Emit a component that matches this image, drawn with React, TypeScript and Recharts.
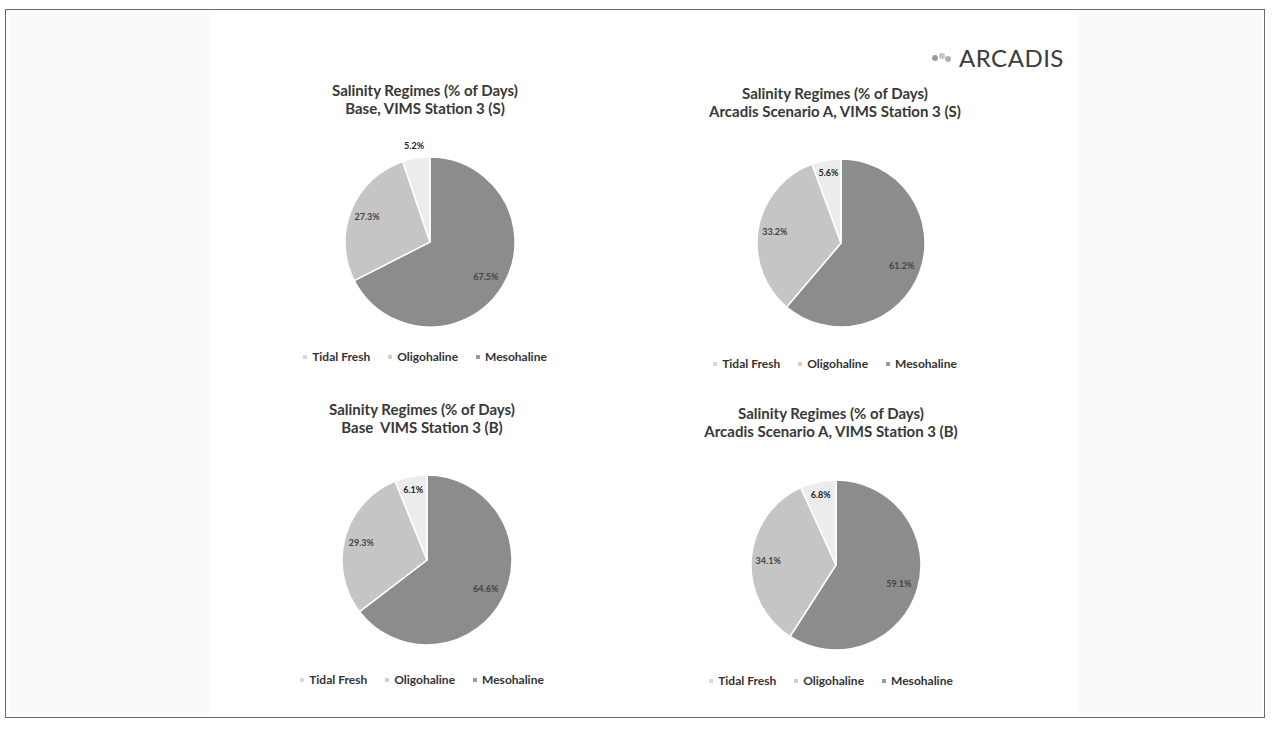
import React from 'react';
import { PieChart, Pie, Cell, Legend } from 'recharts';

// Category names (legend order)
const categories = ['Tidal Fresh', 'Oligohaline', 'Mesohaline'];

// Percent of days, in legend order: Tidal Fresh, Oligohaline, Mesohaline
const baseSurface = [5.2, 27.3, 67.5];
const scenarioASurface = [5.6, 33.2, 61.2];
const baseBottom = [6.1, 29.3, 64.6];
const scenarioABottom = [6.8, 34.1, 59.1];

const titleLine1 = 'Salinity Regimes (% of Days)';
const subtitles = [
  'Base, VIMS Station 3 (S)',
  'Arcadis Scenario A, VIMS Station 3 (S)',
  'Base\u00a0 VIMS Station 3 (B)',
  'Arcadis Scenario A, VIMS Station 3 (B)',
];

const COLORS: Record<string, string> = {
  'Tidal Fresh': '#ececec',
  Oligohaline: '#c5c5c5',
  Mesohaline: '#8c8c8c',
};

const MARKER: Record<string, string> = {
  'Tidal Fresh': '#d8d8d8',
  Oligohaline: '#d0d0d0',
  Mesohaline: '#9a9a9a',
};

const FONT = 'Lato, "Open Sans", sans-serif';
const RAD = Math.PI / 180;

const panels = [
  { values: baseSurface, sub: subtitles[0], left: 270, top: 80, cx: 155, cy: 157, r: 85, t1: 1, legendTop: 269, smallOut: true },
  { values: scenarioASurface, sub: subtitles[1], left: 680, top: 80, cx: 156, cy: 158, r: 84, t1: 4, legendTop: 276, smallOut: false },
  { values: baseBottom, sub: subtitles[2], left: 267, top: 395, cx: 155, cy: 160, r: 85, t1: 5, legendTop: 277, smallOut: false },
  { values: scenarioABottom, sub: subtitles[3], left: 676, top: 400, cx: 155, cy: 160, r: 85, t1: 4, legendTop: 273, smallOut: false },
];

const makeLabel = (smallOut: boolean) => (props: any) => {
  const { cx, cy, midAngle, outerRadius, value, name } = props;
  let f = 0.77;
  if (name === 'Oligohaline') f = 0.8;
  if (name === 'Tidal Fresh') f = smallOut ? 1.15 : 0.85;
  const r = outerRadius * f;
  const x = cx + r * Math.cos(-midAngle * RAD);
  const y = cy + r * Math.sin(-midAngle * RAD);
  return (
    <text
      x={x}
      y={y}
      textAnchor="middle"
      dominantBaseline="central"
      fontFamily={FONT}
      fontWeight={700}
      fontSize={9}
      fill={name === 'Tidal Fresh' ? '#222' : '#444'}
    >
      {value.toFixed(1)}%
    </text>
  );
};

const LegendContent = () => (
  <div style={{ display: 'flex', justifyContent: 'center', gap: 18, fontFamily: FONT, fontWeight: 700, fontSize: 12, color: '#333' }}>
    {categories.map((c) => (
      <div key={c} style={{ display: 'flex', alignItems: 'center' }}>
        <span style={{ display: 'inline-block', width: 4, height: 4, background: MARKER[c], marginRight: 5 }} />
        <span>{c}</span>
      </div>
    ))}
  </div>
);

function Panel({ p }: { p: (typeof panels)[number] }) {
  // drawing order clockwise from 12 o'clock: Mesohaline, Oligohaline, Tidal Fresh
  const data = [2, 1, 0].map((i) => ({ name: categories[i], value: p.values[i] }));
  return (
    <div style={{ position: 'absolute', left: p.left, top: p.top, width: 310, height: 300 }}>
      <div
        style={{
          position: 'absolute',
          left: -20,
          top: p.t1,
          width: 350,
          textAlign: 'center',
          fontFamily: FONT,
          fontWeight: 700,
          fontSize: 15,
          lineHeight: '18px',
          color: '#383838',
          whiteSpace: 'pre',
        }}
      >
        <div>{titleLine1}</div>
        <div>{p.sub}</div>
      </div>
      <PieChart width={310} height={300} style={{ position: 'absolute', left: 0, top: 0 }}>
        <Pie
          data={data}
          dataKey="value"
          nameKey="name"
          cx={p.cx}
          cy={p.cy}
          outerRadius={p.r}
          startAngle={90}
          endAngle={-270}
          stroke="#ffffff"
          strokeWidth={1.5}
          label={makeLabel(p.smallOut)}
          labelLine={false}
          isAnimationActive={false}
        >
          {data.map((d) => (
            <Cell key={d.name} fill={COLORS[d.name]} />
          ))}
        </Pie>
        <Legend content={<LegendContent />} wrapperStyle={{ position: 'absolute', left: 0, top: p.legendTop, width: 310 }} />
      </PieChart>
    </div>
  );
}

export default function App() {
  return (
    <div style={{ position: 'absolute', left: 0, top: 0, width: 1273, height: 731, background: '#fff', overflow: 'hidden' }}>
      <div style={{ position: 'absolute', left: 10, top: 14, width: 200, height: 700, background: '#fafafa' }} />
      <div style={{ position: 'absolute', left: 1078, top: 14, width: 184, height: 700, background: '#fafafa' }} />
      <div style={{ position: 'absolute', left: 5, top: 9, width: 1258, height: 707, border: '1.5px solid #6a6a6a' }} />
      {panels.map((p, i) => (
        <Panel key={i} p={p} />
      ))}
      <div style={{ position: 'absolute', left: 930, top: 43, display: 'flex', alignItems: 'center' }}>
        <svg width={26} height={16}>
          <circle cx={5} cy={8} r={3} fill="#9a9a9a" />
          <circle cx={12} cy={6} r={3} fill="#c4c4c4" />
          <circle cx={18} cy={9} r={3} fill="#b0b0b0" />
        </svg>
        <span style={{ fontFamily: 'Lato, sans-serif', fontSize: 24, color: '#3c3c3c', letterSpacing: 0.5, marginLeft: 3 }}>ARCADIS</span>
      </div>
    </div>
  );
}
